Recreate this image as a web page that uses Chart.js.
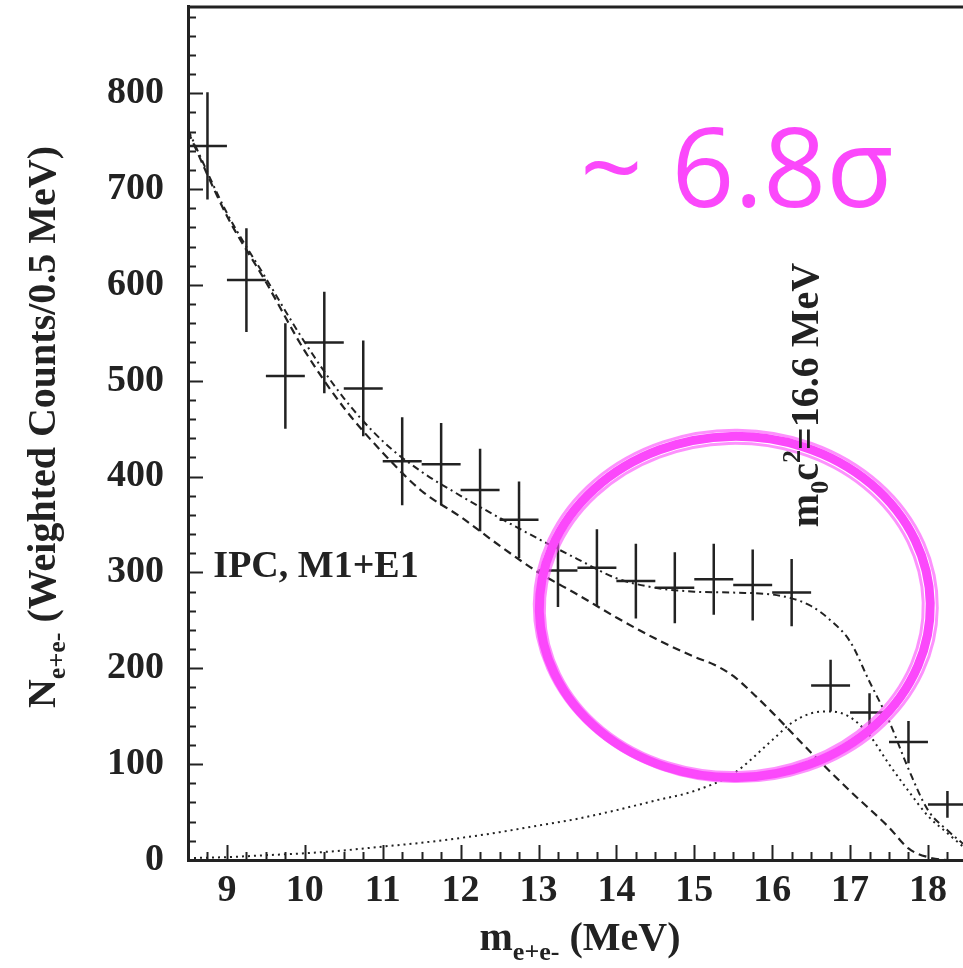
<!DOCTYPE html>
<html>
<head>
<meta charset="utf-8">
<script src="https://cdn.jsdelivr.net/npm/chart.js@4.4.1/dist/chart.umd.min.js"></script>
<style>
  body { margin: 0; background: #fff; }
  canvas { display: block; }
</style>
</head>
<body>
<canvas id="massChart" width="963" height="968"></canvas>
<script>
// measured e+e- invariant mass spectrum (bin centres, 0.5 MeV bins)
const massBins = [8.75, 9.25, 9.75, 10.25, 10.75, 11.25, 11.75, 12.25, 12.75, 13.25,
                  13.75, 14.25, 14.75, 15.25, 15.75, 16.25, 16.75, 17.25, 17.75, 18.25];
const counts   = [745, 605, 505, 540, 492, 416, 413, 386, 355, 302,
                  305, 291, 284, 293, 287, 279, 182, 154, 123, 58];
const countErr = [56, 54, 55, 53, 50, 46, 43, 43, 40, 38,
                  40, 39, 37, 37, 37, 35, 27, 20, 22, 14];
const binHalfWidth = 0.25;

// IPC background (dashed)
const ipcMass = [8.5, 9, 9.5, 10, 10.5, 11, 11.5, 12, 12.5, 13, 13.5, 14, 14.5, 15, 15.25,
                 15.5, 15.75, 16, 16.5, 17, 17.5, 17.75, 18, 18.25, 18.45];
const ipcFit  = [760, 672, 603, 531, 472, 425, 385, 358, 328, 300, 277, 253, 231, 212, 204,
                 192, 174, 154, 112, 72, 34, 12, 3, 0, 0];

// boson signal (dotted)
const sigMass = [8.5, 9, 9.5, 10, 10.5, 11, 11.5, 12, 12.5, 13, 13.5, 14, 14.5, 15, 15.5,
                 16, 16.25, 16.5, 16.75, 17, 17.25, 17.5, 17.75, 18, 18.25, 18.45];
const sigFit  = [2, 3, 5, 7, 10, 14, 18, 23, 29, 36, 43, 52, 62, 72, 90,
                 125, 143, 153, 155, 149, 130, 100, 72, 46, 28, 14];

// sum of both (dash-dot)
const sumMass = [8.5, 9, 9.5, 10, 10.5, 11, 11.5, 12, 12.5, 13, 13.5, 14, 14.5, 15, 15.5,
                 16, 16.25, 16.5, 16.75, 17, 17.25, 17.5, 17.75, 18, 18.25, 18.45];
const sumFit  = [762, 675, 607, 540, 482, 437, 405, 380, 357, 335, 314, 294, 284, 280, 279,
                 277, 273, 265, 250, 228, 186, 145, 95, 52, 31, 17];

const massTicks  = [9, 10, 11, 12, 13, 14, 15, 16, 17, 18];
const countTicks = [0, 100, 200, 300, 400, 500, 600, 700, 800];

// highlighted region (drawn in data units)
const ringCentre = [15.52, 264];
const ringRadius = [2.51, 178];

const ink = '#222';
const pink = '#fb48fb';
const serif = '"Liberation Serif", "Times New Roman", serif';

function toPts(xs, ys) {
    return xs.map((x, i) => ({ x: x, y: ys[i] }));
}

// error bar crosses as broken line segments
var crossPts = [];
massBins.forEach((m, i) => {
    crossPts.push({ x: m, y: counts[i] - countErr[i] }, { x: m, y: counts[i] + countErr[i] }, { x: m, y: null });
    crossPts.push({ x: m - binHalfWidth, y: counts[i] }, { x: m + binHalfWidth, y: counts[i] }, { x: m, y: null });
});

function drawRuns(ctx, runs, x, y, angle) {
    ctx.save();
    ctx.translate(x, y);
    ctx.rotate(angle);
    var total = 0;
    runs.forEach(r => {
        ctx.font = 'bold ' + r[1] + 'px ' + serif;
        r.w = ctx.measureText(r[0]).width;
        total += r.w;
    });
    var cx = -total / 2;
    ctx.textBaseline = 'alphabetic';
    ctx.textAlign = 'left';
    runs.forEach(r => {
        ctx.font = 'bold ' + r[1] + 'px ' + serif;
        ctx.fillText(r[0], cx, r[2]);
        cx += r.w;
    });
    ctx.restore();
}

const decorations = {
    id: 'decorations',
    afterDatasetsDraw(chart) {
        const ctx = chart.ctx;
        const xs = chart.scales.x, ys = chart.scales.y;
        const area = chart.chartArea;

        // inward tick marks
        ctx.save();
        ctx.strokeStyle = ink;
        ctx.lineWidth = 2;
        ctx.beginPath();
        for (var v = 0; v <= 880; v += 20) {
            var py = Math.round(ys.getPixelForValue(v)) + 0.5;
            var len = (v % 100 === 0) ? 15 : 8;
            ctx.moveTo(area.left, py);
            ctx.lineTo(area.left + len, py);
        }
        for (var k = 0; k <= 40; k++) {
            var m = 8.5 + k * 0.25;
            if (m > xs.max) break;
            var px = Math.round(xs.getPixelForValue(m)) + 0.5;
            var l2 = (Math.abs(m - Math.round(m)) < 1e-6) ? 15 : 8;
            ctx.moveTo(px, area.bottom);
            ctx.lineTo(px, area.bottom - l2);
        }
        ctx.stroke();
        // top frame line
        ctx.lineWidth = 3;
        ctx.beginPath();
        ctx.moveTo(area.left, area.top + 1);
        ctx.lineTo(area.right, area.top + 1);
        ctx.stroke();
        ctx.restore();

        // hand drawn ring
        const cx = xs.getPixelForValue(ringCentre[0]);
        const cy = ys.getPixelForValue(ringCentre[1]);
        const rx = xs.getPixelForValue(ringCentre[0] + ringRadius[0]) - cx;
        const ry = cy - ys.getPixelForValue(ringCentre[1] + ringRadius[1]);
        ctx.save();
        ctx.strokeStyle = pink;
        ctx.lineWidth = 9;
        ctx.beginPath();
        ctx.ellipse(cx, cy, rx, ry, -0.02, 0, Math.PI * 2);
        ctx.stroke();
        ctx.lineWidth = 3;
        ctx.globalAlpha = 0.6;
        ctx.beginPath();
        ctx.ellipse(cx + 1, cy - 1, rx + 6, ry + 5, 0.01, 0, Math.PI * 2);
        ctx.stroke();
        ctx.beginPath();
        ctx.ellipse(cx - 1, cy + 1, rx - 6, ry - 6, -0.03, 0, Math.PI * 2);
        ctx.stroke();
        ctx.restore();

        // texts
        ctx.save();
        ctx.fillStyle = ink;
        drawRuns(ctx, [['IPC, M1+E1', 38, 0]], 316, 577, 0);
        drawRuns(ctx, [['m', 40, 0], ['0', 26, 10], ['c', 40, 0], ['2', 26, -18], ['=16.6 MeV', 40, 0]],
                 818, 395, -Math.PI / 2);
        ctx.fillStyle = pink;
        ctx.font = '110px "Open Sans", "DejaVu Sans", sans-serif';
        ctx.textAlign = 'left';
        ctx.textBaseline = 'alphabetic';
        ctx.fillText('~ 6.8\u03c3', 580, 207);
        ctx.restore();
    },
    afterDraw(chart) {
        const ctx = chart.ctx;
        ctx.save();
        ctx.fillStyle = ink;
        // axis titles
        drawRuns(ctx, [['N', 40, 0], ['e+e-', 26, 10], [' (Weighted Counts/0.5 MeV)', 40, 0]],
                 55, 427, -Math.PI / 2);
        drawRuns(ctx, [['m', 40, 0], ['e+e-', 26, 10], [' (MeV)', 40, 0]], 580, 950, 0);
        ctx.restore();
    }
};

var ctx = document.getElementById('massChart').getContext('2d');
var myChart = new Chart(ctx, {
    type: 'scatter',
    data: {
        datasets: [{
            label: 'IPC',
            data: toPts(ipcMass, ipcFit),
            showLine: true,
            borderColor: ink,
            borderWidth: 2.2,
            borderDash: [8, 5],
            pointRadius: 0,
            cubicInterpolationMode: 'monotone'
        }, {
            label: 'signal',
            data: toPts(sigMass, sigFit),
            showLine: true,
            borderColor: ink,
            borderWidth: 2,
            borderDash: [2, 4],
            pointRadius: 0,
            cubicInterpolationMode: 'monotone'
        }, {
            label: 'sum',
            data: toPts(sumMass, sumFit),
            showLine: true,
            borderColor: ink,
            borderWidth: 2,
            borderDash: [7, 4, 2, 4],
            pointRadius: 0,
            cubicInterpolationMode: 'monotone'
        }, {
            label: 'data',
            data: crossPts,
            showLine: true,
            spanGaps: false,
            borderColor: ink,
            borderWidth: 2.5,
            pointRadius: 0
        }]
    },
    options: {
        responsive: false,
        animation: false,
        layout: { padding: { top: 6, right: 0, left: 0, bottom: 0 } },
        plugins: {
            legend: { display: false },
            tooltip: { enabled: false }
        },
        scales: {
            x: {
                type: 'linear',
                min: 8.5,
                max: 18.45,
                afterBuildTicks: s => { s.ticks = massTicks.map(v => ({ value: v })); },
                afterFit: s => { s.height = 108; s.paddingLeft = 0; s.paddingRight = 0; },
                grid: { display: false, drawTicks: false },
                border: { display: true, color: ink, width: 3 },
                ticks: {
                    color: ink,
                    padding: 8,
                    maxRotation: 0,
                    autoSkip: false,
                    font: { family: serif, weight: 'bold', size: 38 }
                }
            },
            y: {
                min: 0,
                max: 891,
                afterBuildTicks: s => { s.ticks = countTicks.map(v => ({ value: v })); },
                afterFit: s => { s.width = 188; s.paddingTop = 0; s.paddingBottom = 0; },
                grid: { display: false, drawTicks: false },
                border: { display: true, color: ink, width: 3 },
                ticks: {
                    color: ink,
                    padding: 24,
                    autoSkip: false,
                    font: { family: serif, weight: 'bold', size: 38 }
                }
            }
        }
    },
    plugins: [decorations]
});
</script>
</body>
</html>
